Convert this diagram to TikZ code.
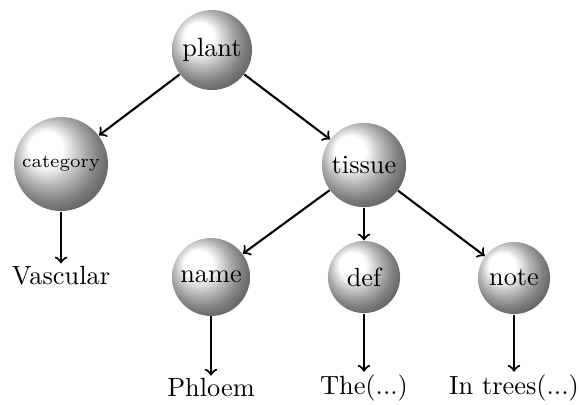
\documentclass[tikz,border=0pt]{standalone}
\usetikzlibrary{shadings}
\begin{document}
\begin{tikzpicture}[x=0.38pt,y=-0.38pt,
  ballnode/.style={circle,shading=ball,ball color=white,inner sep=0pt,text=black},
  leaf/.style={inner sep=1pt},
  conn/.style={->,thick}]
\useasboundingbox (0,0) rectangle (579,404);
\node[ballnode,minimum size=30.4pt] (plant) at (212,50) {plant};
\node[ballnode,minimum size=35.7pt] (category) at (61,164) {\scriptsize category};
\node[ballnode,minimum size=32pt] (tissue) at (364,165) {tissue};
\node[ballnode,minimum size=29.6pt] (name) at (211,277) {name};
\node[ballnode,minimum size=27.4pt] (def) at (364,277) {def};
\node[ballnode,minimum size=27.4pt] (note) at (514,278) {note};
\node[leaf] (vascular) at (61,276) {Vascular};
\node[leaf] (phloem) at (211,388) {Phloem};
\node[leaf] (the) at (364,388) {The(...)};
\node[leaf] (intrees) at (514,388) {In trees(...)};
\draw[conn] (plant) -- (category);
\draw[conn] (plant) -- (tissue);
\draw[conn] (category) -- (vascular);
\draw[conn] (tissue) -- (name);
\draw[conn] (tissue) -- (def);
\draw[conn] (tissue) -- (note);
\draw[conn] (name) -- (phloem);
\draw[conn] (def) -- (the);
\draw[conn] (note) -- (intrees);
\end{tikzpicture}
\end{document}
